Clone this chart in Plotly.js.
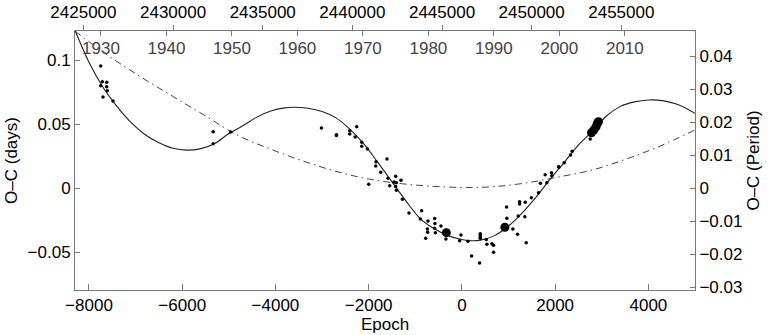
<!DOCTYPE html>
<html>
<head>
<meta charset="utf-8">
<script src="https://cdn.plot.ly/plotly-3.0.1.min.js"></script>
<style>
  html, body { margin: 0; padding: 0; background: #fff; }
  #chart { width: 771px; height: 335px; }
</style>
</head>
<body>
<div id="chart"></div>
<script>
// O-C diagram: observed minima, LTTE fit (solid) and parabola (dash-dot)

// small dots: epoch / O-C (days)
const dotEpoch = [-7748, -7714, -7620, -7748, -7620, -7607, -7699, -7485,
  -5336, -5336, -4963,
  -3013, -2691, -2691, -2406, -2406, -2256, -2290, -2149, -2149, -2027, -1607, -1843, -1849, -1742,
  -1421, -1586, -1307, -1999, -1457, -1406, -1549, -1421, -1406, -1277, -1136, -864, -891, -729,
  -585, -578, -741, -735, -585, -570, -450, -778, -343, -21, -49, 129, 208, 379,
  394, 394, 394, 394, 522, 536, 643, 679, 679, 958, 964, 1093, 1193, 1236, 1236, 1358, 1350,
  1380, 1208, 1490, 1644, 1683, 1786, 1822, 1922, 1929, 2072, 2080, 2194, 2329, 2366, 2751];
const dotOC = [0.0955, 0.0833, 0.0828, 0.0802, 0.0794, 0.0763, 0.0713, 0.0682,
  0.0442, 0.0348, 0.0440,
  0.0471, 0.0418, 0.0413, 0.0450, 0.0424, 0.0481, 0.0400, 0.0359, 0.0329, 0.0306, 0.0228, 0.0208, 0.0174, 0.0125,
  0.0094, 0.0078, 0.0062, 0.0031, 0.0049, 0.0044, 0.0020, 0.0013, -0.0016, -0.0086, -0.0193, -0.0175, -0.0240, -0.0255,
  -0.0237, -0.0276, -0.0318, -0.0344, -0.0313, -0.0347, -0.0295, -0.0391, -0.0396, -0.0366, -0.0410, -0.0415, -0.0529, -0.0584,
  -0.0355, -0.0365, -0.0378, -0.0391, -0.0401, -0.0438, -0.0433, -0.0445, -0.0500, -0.0146, -0.0234, -0.0318, -0.0359, -0.0105, -0.0123, -0.0109, -0.0222,
  -0.0425, -0.0216, -0.0074, -0.0035, 0.0040, 0.0106, 0.0044, 0.0121, 0.0098, 0.0169, 0.0164, 0.0200, 0.0260, 0.0289, 0.0385];

// large dots (precise minima)
const bigEpoch = [-334, 921, 2779, 2829, 2879, 2905, 2929];
const bigOC = [-0.0347, -0.0305, 0.0434, 0.0455, 0.0481, 0.0508, 0.0520];

// solid fit curve
const fitEpoch = [-8300, -8000, -7700, -7400, -7100, -6800, -6500, -6200, -5900, -5600, -5300, -5000,
  -4700, -4400, -4100, -3800, -3600, -3300, -3000, -2700, -2400, -2100, -1800, -1500, -1200, -900,
  -600, -300, 0, 200, 400, 700, 1000, 1300, 1600, 1900, 2200, 2500, 2800, 3100, 3400, 3700, 4000, 4300, 4600, 5000];
const fitOC = [0.1235, 0.0985, 0.0790, 0.0640, 0.0515, 0.0420, 0.0355, 0.0312, 0.0298, 0.0310, 0.0350, 0.0428,
  0.0488, 0.0556, 0.0604, 0.0628, 0.0633, 0.0625, 0.0600, 0.0550, 0.0460, 0.0345, 0.0200, 0.0050, -0.0100, -0.0235,
  -0.0315, -0.0370, -0.0400, -0.0410, -0.0405, -0.0370, -0.0295, -0.0190, -0.0065, 0.0075, 0.0205, 0.0340, 0.0445, 0.0565, 0.0640, 0.0675, 0.0690, 0.0685, 0.0658, 0.0586];

// dash-dot parabola
const parEpoch = [-8300, -7600, -6900, -6200, -5500, -4800, -4100, -3400, -2700, -2000, -1300, -600,
  100, 700, 1400, 2100, 2800, 3500, 4200, 5000];
const parOC = [0.1228, 0.1040, 0.0873, 0.0718, 0.0565, 0.0412, 0.0305, 0.0212, 0.0132, 0.0072, 0.0036, 0.0015,
  0.0006, 0.0013, 0.0043, 0.0090, 0.0143, 0.0225, 0.0322, 0.0455];

// tick labels
const epochTicks = [-8000, -6000, -4000, -2000, 0, 2000, 4000];
const ocTicks = [-0.05, 0, 0.05, 0.1];
const phaseTicks = [-0.03, -0.02, -0.01, 0, 0.01, 0.02, 0.03, 0.04];
const jdTicks = [2425000, 2430000, 2435000, 2440000, 2445000, 2450000, 2455000];
const yearTicks = [1930, 1940, 1950, 1960, 1970, 1980, 1990, 2000, 2010];

// ephemeris used for the top axes
const T0 = 2446110;
const P = 2.6;
const epochRange = [-8300, 5000];
const ocRange = [-0.0795, 0.1229];
const phaseRange = [-0.0308, 0.0477];

// top axes share the epoch scale; tick positions come from the ephemeris
const jdToEpoch = j => (j - T0) / P;
const yearToEpoch = y => jdToEpoch(2451544.5 + (y - 2000) * 365.25);
const fmt = v => String(v).replace('-', '\u2212');

const FONT = { family: "Liberation Sans, Arial, sans-serif", size: 17, color: "#000" };
const AX = "#7a7a7a";

const traces = [
  { x: parEpoch, y: parOC, type: "scatter", mode: "lines", hoverinfo: "skip",
    line: { color: "#444", width: 1, dash: "7px,4px,1.5px,4px", shape: "spline" } },
  { x: fitEpoch, y: fitOC, type: "scatter", mode: "lines", hoverinfo: "skip",
    line: { color: "#222", width: 1.1, shape: "spline" } },
  { x: dotEpoch, y: dotOC, type: "scatter", mode: "markers",
    marker: { color: "#000", size: 3.5 } },
  { x: bigEpoch, y: bigOC, type: "scatter", mode: "markers",
    marker: { color: "#000", size: 9 } },
  { x: [], y: [], xaxis: "x2", yaxis: "y", type: "scatter", mode: "markers" },
  { x: [], y: [], xaxis: "x3", yaxis: "y", type: "scatter", mode: "markers" },
  { x: [], y: [], xaxis: "x", yaxis: "y2", type: "scatter", mode: "markers" }
];

const layout = {
  width: 771, height: 335,
  margin: { l: 75, r: 76, t: 31, b: 45 },
  paper_bgcolor: "#fff", plot_bgcolor: "#fff",
  font: FONT,
  showlegend: false,
  xaxis: {
    range: epochRange, tickmode: "array", tickvals: epochTicks, ticktext: epochTicks.map(fmt),
    ticks: "inside", ticklen: 6, tickcolor: AX, showline: true, linecolor: AX, linewidth: 1,
    showgrid: false, zeroline: false, tickangle: 0,
    title: { text: "Epoch", font: FONT, standoff: 3 }
  },
  xaxis2: {
    overlaying: "x", side: "top", anchor: "y", range: epochRange,
    tickmode: "array", tickvals: jdTicks.map(jdToEpoch), ticktext: jdTicks.map(String), tickangle: 0,
    ticks: "outside", ticklen: 5, tickcolor: AX, showline: true, linecolor: AX,
    showgrid: false, zeroline: false
  },
  xaxis3: {
    overlaying: "x", side: "top", anchor: "y", range: epochRange,
    tickmode: "array", tickvals: yearTicks.map(yearToEpoch), ticktext: yearTicks.map(String), tickangle: 0,
    ticks: "inside", ticklen: 5, tickcolor: AX, showline: false,
    ticklabelposition: "inside", ticklabelstandoff: 7, showgrid: false, zeroline: false
  },
  yaxis: {
    range: ocRange, tickmode: "array", tickvals: ocTicks, ticktext: ocTicks.map(fmt),
    ticks: "inside", ticklen: 5, tickcolor: AX, showline: true, linecolor: AX,
    showgrid: false, zeroline: false,
    title: { text: "O\u2013C (days)", font: FONT, standoff: 5 }
  },
  yaxis2: {
    overlaying: "y", side: "right", anchor: "x", range: phaseRange,
    tickmode: "array", tickvals: phaseTicks, ticktext: phaseTicks.map(fmt),
    ticks: "inside", ticklen: 5, tickcolor: AX, showline: true, linecolor: AX,
    showgrid: false, zeroline: false,
    title: { text: "O\u2013C (Period)", font: FONT, standoff: 5 }
  }
};

Plotly.newPlot("chart", traces, layout, { displayModeBar: false, staticPlot: true });
</script>
</body>
</html>
